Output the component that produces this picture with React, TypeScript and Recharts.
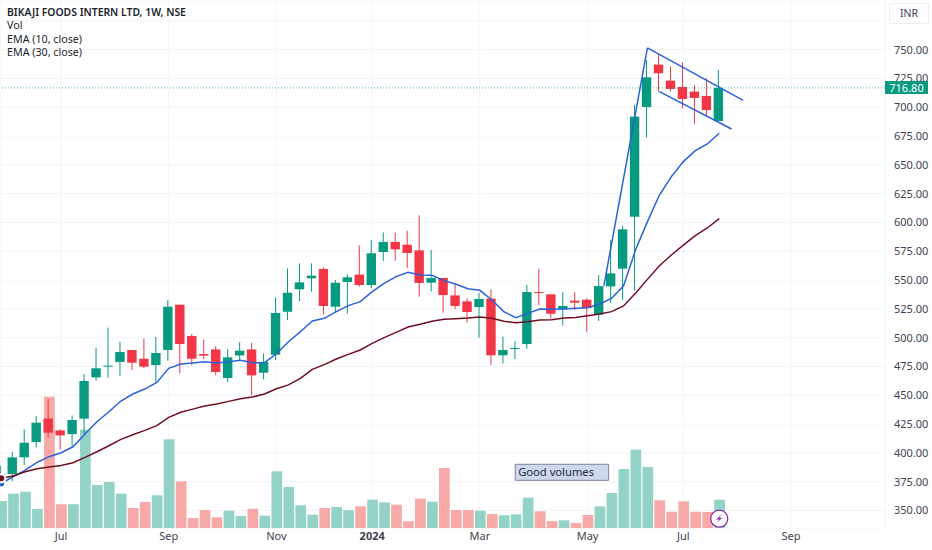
import {
  Bar,
  CartesianGrid,
  ComposedChart,
  Line,
  ReferenceArea,
  ReferenceDot,
  ReferenceLine,
  XAxis,
  YAxis,
} from "recharts";

const opens = [379.3, 381.6, 396.1, 409.4, 429.7, 419.5, 416.3, 429.7, 465.5, 474.8, 478.9, 489.3, 481.7, 476.2, 489.3, 528.6, 501.4, 485.8, 489.8, 465, 484.6, 489.8, 469.6, 485.2, 522.5, 542, 551.5, 559.6, 526.9, 548.3, 554.7, 545.7, 574.4, 583.1, 580.7, 575.8, 547.7, 551.8, 536.7, 531.5, 526.6, 533.9, 484.7, 490.2, 494.5, 539.6, 537.6, 524.6, 532.1, 533, 520, 544.5, 559.9, 605, 700.2, 737, 723.1, 717.6, 713.6, 709.8, 688.1];
const closes = [381.6, 396.1, 408.8, 426.2, 417.5, 415.2, 428.5, 462.4, 473.4, 475.7, 487.5, 478.3, 474.8, 486.7, 526.9, 494.5, 481.7, 484.4, 470.2, 482.9, 488.7, 467.3, 478.9, 521.4, 539, 548, 553.8, 527.5, 547.7, 552.4, 545.7, 573.2, 583.1, 576.7, 573.5, 547.5, 551.8, 537, 527.5, 522.3, 533.6, 484.7, 489.3, 491, 539.6, 538.8, 520.8, 527.5, 530.4, 525.7, 544.8, 555.8, 594, 691.9, 726, 729.5, 715.9, 707.2, 708.1, 697.6, 716.8];
const highs = [388.8, 401, 420.4, 432, 446.7, 420.4, 432.5, 468.4, 491.3, 508.7, 496.5, 489.3, 499.4, 500.6, 532.7, 528.6, 503.2, 498.5, 492.7, 490.1, 496.2, 495.6, 486.4, 535, 560.2, 564.5, 564.5, 561, 550, 555, 580.2, 584.8, 591.4, 591.2, 592.9, 606.2, 576, 551.8, 546.3, 534.1, 539, 542, 500.9, 496.8, 546, 559.6, 537.6, 539.4, 539.6, 534.1, 554.4, 584.8, 597.2, 702, 741, 746.3, 735.3, 739, 719.3, 725.1, 732.4];
const lows = [372.1, 375.5, 389.4, 404.8, 413.4, 403, 406, 416.9, 462.6, 465.2, 467, 471.9, 473.4, 461.8, 480, 469, 476.2, 481.2, 467.3, 461.5, 480, 449.9, 463.8, 480.6, 515.3, 531.8, 540, 520, 522, 521, 544.3, 542.8, 566.6, 566.8, 560.5, 535.6, 540.2, 521.7, 524.9, 513, 500, 476.3, 477.7, 481.5, 490.4, 528.1, 516.5, 510.4, 524, 505.2, 514.5, 529.8, 532.7, 540.8, 673.6, 713.6, 713.6, 699.1, 685.5, 691.9, 688];
const volumes = [27, 34.3, 36.3, 19, 131.3, 23.7, 23.7, 98.3, 43, 46, 34.3, 20, 26, 32.7, 88.7, 46.7, 10, 18, 10.7, 17.3, 12, 19.3, 12.3, 56.7, 41, 22.7, 13.3, 20, 21, 17.7, 21.7, 28.3, 25.7, 23.3, 6.7, 29.3, 26.3, 60, 18, 18, 17.3, 14, 12.7, 13.7, 30.3, 16.7, 7, 7.7, 5, 13, 21.7, 35, 59, 78.3, 61, 27.7, 16.3, 26.7, 16.3, 16, 28.3];
const ema10 = [373.5, 379.3, 385.1, 391.7, 396.7, 400.1, 405.3, 416.3, 427, 435.7, 445, 451.1, 455.4, 461.2, 473.4, 477.1, 478, 479.1, 478, 479.1, 480.3, 478.3, 478.3, 486, 496.5, 505.2, 514.5, 516.8, 522.6, 527.8, 531.3, 540, 547.2, 553, 556.7, 554.4, 554.1, 549.5, 546.3, 542.5, 541.1, 532.7, 522.6, 517.4, 521.1, 524.9, 524.6, 524.8, 525.5, 526, 529.2, 534.1, 544.8, 576.1, 600.7, 623.8, 639.8, 652.8, 662.3, 668.1, 677.4];
const ema30 = [377.9, 379.9, 383.6, 386.2, 387.7, 389.1, 391.4, 396.1, 401, 406.2, 411.7, 415.8, 419.5, 423.6, 430.8, 435.2, 438, 440.7, 442.4, 444.7, 447, 448.5, 451.1, 455.7, 459, 464.7, 472.5, 476.6, 481.5, 485.5, 489.3, 495.1, 500, 504.6, 509.3, 511.6, 514.2, 515.9, 516.5, 517, 517.9, 516.8, 514.2, 513, 513.9, 515.3, 515.6, 517, 517.5, 519.1, 520.5, 522.6, 527.5, 538.5, 550.6, 562.5, 571.8, 580.4, 588.5, 595.2, 603.3];

const priceTicks = [350, 375, 400, 425, 450, 475, 500, 525, 550, 575, 600, 625, 650, 675, 700, 725, 750];
const timeTicks = [5, 14, 23, 31, 40, 49, 57, 66];
const timeLabels = ["Jul", "Sep", "Nov", "2024", "Mar", "May", "Jul", "Sep"];
const legendRows = ["Vol", "EMA (10, close)", "EMA (30, close)"];
const title = "BIKAJI FOODS INTERN LTD, 1W, NSE";
const lastPrice = 716.8;

const UP = "#089981";
const DOWN = "#F23645";
const UP_VOL = "#92D2C7";
const DOWN_VOL = "#F7A9A7";
const BLUE = "#2962D9";
const GRID = "#F3F4F7";
const FONT = "'Noto Sans', sans-serif";

const data = opens.map((open, i) => ({
  i,
  open,
  close: closes[i],
  high: highs[i],
  low: lows[i],
  range: [lows[i], highs[i]],
  volume: volumes[i],
  ema10: ema10[i],
  ema30: ema30[i],
}));

function Candle(props: any) {
  const { x, y, width, height, payload } = props;
  const { open, close, high, low } = payload;
  const perUnit = height / (high - low);
  const cx = x + width / 2;
  const color = close >= open ? UP : DOWN;
  const top = y + (high - Math.max(open, close)) * perUnit;
  const bodyH = Math.max(Math.abs(open - close) * perUnit, 1);
  return (
    <g>
      <line x1={cx} x2={cx} y1={y} y2={y + height} stroke={color} strokeWidth={1} />
      <rect x={cx - 4.7} y={top} width={9.4} height={bodyH} fill={color} />
    </g>
  );
}

function VolumeBar(props: any) {
  const { x, y, width, height, payload } = props;
  return (
    <rect
      x={x}
      y={y}
      width={width}
      height={height}
      fill={payload.close >= payload.open ? UP_VOL : DOWN_VOL}
    />
  );
}

function TimeTick(props: any) {
  const { x, y, payload } = props;
  const label = timeLabels[timeTicks.indexOf(payload.value)];
  return (
    <text
      x={x}
      y={y + 4}
      textAnchor="middle"
      fontSize={11}
      fontFamily={FONT}
      fontWeight={label === "2024" ? 700 : 400}
      fill="#3f4350"
    >
      {label}
    </text>
  );
}

function Bolt(props: any) {
  const { cx, cy } = props;
  return (
    <g>
      <circle cx={cx} cy={cy} r={8.5} fill="#fff" stroke="#8E24AA" strokeWidth={1.3} />
      <path
        d={`M${cx + 2.5} ${cy - 4.5} L${cx - 3} ${cy + 0.8} H${cx} L${cx - 2.5} ${cy + 4.5} L${cx + 3} ${cy - 0.8} H${cx} Z`}
        fill="#8E24AA"
      />
    </g>
  );
}

export default function App() {
  return (
    <div
      style={{
        position: "absolute",
        left: 0,
        top: 0,
        width: 932,
        height: 550,
        background: "#fff",
        overflow: "hidden",
        fontFamily: FONT,
      }}
    >
      <ComposedChart
        width={932}
        height={550}
        data={data}
        margin={{ top: 0, right: 0, bottom: 0, left: 0 }}
        barGap="-100%"
      >
        <CartesianGrid yAxisId="price" xAxisId="time" stroke={GRID} strokeWidth={1} />
        <XAxis
          xAxisId="time"
          dataKey="i"
          type="number"
          domain={[-0.1, 73.85]}
          ticks={timeTicks}
          interval={0}
          height={22}
          axisLine={false}
          tickLine={false}
          tick={<TimeTick />}
        />
        <YAxis
          yAxisId="price"
          orientation="right"
          type="number"
          domain={[334.8, 793.1]}
          ticks={priceTicks}
          interval={0}
          width={47}
          axisLine={false}
          tickLine={false}
          tickMargin={3}
          tickFormatter={(v: number) => v.toFixed(2)}
          tick={{ fontSize: 11, fill: "#3f4350", fontFamily: FONT }}
        />
        <YAxis yAxisId="volume" hide type="number" domain={[0, 528]} />

        {/* 775 has a grid line but its label sits under the INR button */}
        <ReferenceLine xAxisId="time" yAxisId="price" y={775} stroke={GRID} strokeWidth={1} />

        <Bar
          xAxisId="time"
          yAxisId="volume"
          dataKey="volume"
          barSize={10.7}
          shape={<VolumeBar />}
          isAnimationActive={false}
        />
        <ReferenceLine
          xAxisId="time"
          yAxisId="price"
          y={lastPrice}
          stroke={UP}
          strokeOpacity={0.75}
          strokeWidth={1}
          strokeDasharray="1 2"
        />
        <Bar
          xAxisId="time"
          yAxisId="price"
          dataKey="range"
          barSize={10.7}
          shape={<Candle />}
          isAnimationActive={false}
        />
        <Line
          xAxisId="time"
          yAxisId="price"
          dataKey="ema10"
          stroke={BLUE}
          strokeWidth={1.5}
          dot={false}
          isAnimationActive={false}
        />
        <Line
          xAxisId="time"
          yAxisId="price"
          dataKey="ema30"
          stroke="#70101F"
          strokeWidth={1.5}
          dot={false}
          isAnimationActive={false}
        />

        {/* flag drawing */}
        <ReferenceLine
          xAxisId="time"
          yAxisId="price"
          segment={[{ x: 50.36, y: 545 }, { x: 54, y: 751.5 }]}
          stroke={BLUE}
          strokeWidth={1.5}
        />
        <ReferenceLine
          xAxisId="time"
          yAxisId="price"
          segment={[{ x: 54, y: 751.5 }, { x: 62, y: 706 }]}
          stroke={BLUE}
          strokeWidth={1.5}
        />
        <ReferenceLine
          xAxisId="time"
          yAxisId="price"
          segment={[{ x: 55, y: 713.6 }, { x: 61.03, y: 681.1 }]}
          stroke={BLUE}
          strokeWidth={1.5}
        />

        <ReferenceArea
          xAxisId="time"
          yAxisId="price"
          x1={42.95}
          x2={50.76}
          y1={376.2}
          y2={390.1}
          fill="#CFD8EA"
          fillOpacity={1}
          stroke="#7A84A0"
          strokeWidth={1}
          label={{
            value: "Good volumes",
            position: "insideLeft",
            offset: 3,
            fontSize: 11.2,
            fill: "#1E2A44",
            fontFamily: FONT,
          }}
        />
        <ReferenceDot
          xAxisId="time"
          yAxisId="price"
          x={60}
          y={342.9}
          shape={<Bolt />}
        />
      </ComposedChart>

      {/* pane legend */}
      <div style={{ position: "absolute", left: 7, top: 6, fontSize: 10.7, lineHeight: "13.3px", color: "#1b1f2b", whiteSpace: "nowrap" }}>
        <div style={{ fontWeight: 600, fontSize: 10.4 }}>{title}</div>
        {legendRows.map((row) => (
          <div key={row}>{row}</div>
        ))}
      </div>

      {/* currency button and last price tag */}
      <div
        style={{
          position: "absolute",
          left: 889,
          top: 3,
          width: 38,
          height: 19,
          border: "1px solid #EDEEF2",
          borderRadius: 2,
          background: "#fff",
          fontSize: 10.5,
          lineHeight: "19px",
          textAlign: "center",
          color: "#3f4350",
        }}
      >
        INR
      </div>
      <div
        style={{
          position: "absolute",
          left: 885,
          top: 81,
          width: 43,
          height: 13,
          background: UP,
          color: "#fff",
          fontSize: 11,
          lineHeight: "13px",
          textAlign: "center",
        }}
      >
        {lastPrice.toFixed(2)}
      </div>
    </div>
  );
}
